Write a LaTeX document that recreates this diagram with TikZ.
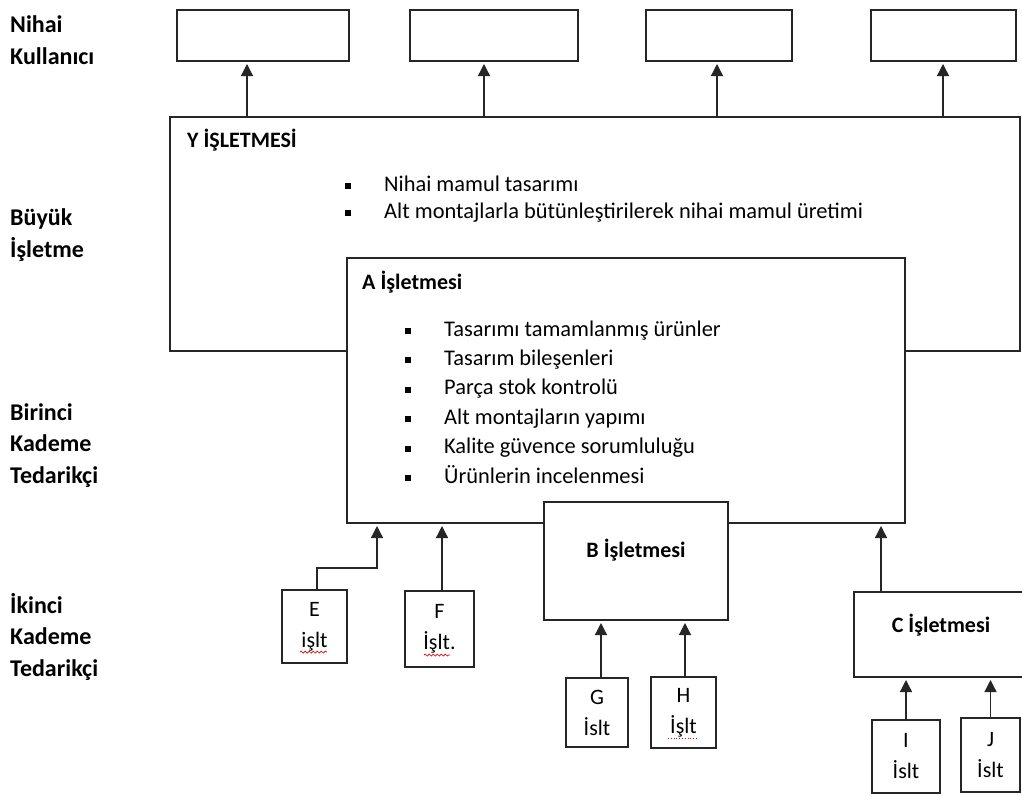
\documentclass[tikz,border=0pt]{standalone}
\usepackage{fontspec}
\setmainfont{Carlito}
\usetikzlibrary{arrows.meta,decorations.pathmorphing}

\newcommand{\blt}{\makebox[39pt][l]{\rule[2pt]{6pt}{6pt}}}

\begin{document}
\begin{tikzpicture}[x=1pt,y=-1pt,
  box/.style={draw=black!85, line width=1.3pt, fill=white, rectangle, inner sep=0pt, outer sep=0pt, anchor=north west},
  arr/.style={draw=black!85, line width=1.3pt, -{Triangle[length=12pt,width=12pt]}, shorten >=3pt},
  lvl/.style={font=\bfseries\fontsize{24}{31.5}\selectfont, align=left, anchor=base west, inner sep=0pt},
  head/.style={font=\bfseries\fontsize{22}{27}\selectfont, inner sep=0pt},
  body/.style={font=\fontsize{22.4}{29.4}\selectfont, align=left, anchor=base west, inner sep=0pt},
  small/.style={box, font=\fontsize{22}{31}\selectfont, align=center},
  spell/.style={draw=red!85!black, line width=0.7pt, decorate, decoration={snake, amplitude=1pt, segment length=4pt}}
]
\useasboundingbox[fill=white] (0,0) rectangle (1022,795);

% level labels (anchored at the baseline of their last line)
\node[lvl] (l1) at (10,64) {Nihai\\Kullanıcı};
\node[lvl] (l2) at (10,257) {Büyük\\İşletme};
\node[lvl] (l3) at (10,483) {Birinci\\Kademe\\Tedarikçi};
\node[lvl] (l4) at (10,676) {İkinci\\Kademe\\Tedarikçi};

% end users
\node[box, minimum width=172, minimum height=51] (u1) at (177,10) {};
\node[box, minimum width=168, minimum height=51] (u2) at (410,10) {};
\node[box, minimum width=146, minimum height=51] (u3) at (646,10) {};
\node[box, minimum width=145, minimum height=51] (u4) at (871,10) {};

% main company
\node[box, minimum width=850, minimum height=234] (Y) at (170,117) {};
\node[head, anchor=base west] (yh) at (187,147) {Y İŞLETMESİ};
\node[body, font=\fontsize{22.4}{27}\selectfont] (yl) at (345,218)
  {\blt Nihai mamul tasarımı\\\blt Alt montajlarla bütünleştirilerek nihai mamul üretimi};

% first tier
\node[box, minimum width=558, minimum height=265] (A) at (347,258) {};
\node[head, anchor=base west] (ah) at (362,289) {A İşletmesi};
\node[body] (al) at (405,483)
  {\blt Tasarımı tamamlanmış ürünler\\\blt Tasarım bileşenleri\\\blt Parça stok kontrolü\\
   \blt Alt montajların yapımı\\\blt Kalite güvence sorumluluğu\\\blt Ürünlerin incelenmesi};

\node[box, minimum width=184, minimum height=118] (B) at (544,502) {};
\node[head, anchor=base] (bh) at (636,557) {B İşletmesi};
\node[box, minimum width=176, minimum height=85] (C) at (854,592) {};
\node[head, anchor=base] (ch) at (941,632) {C İşletmesi};

% second tier
\node[small, minimum width=65, minimum height=73] (E) at (282,590) {E\\işlt};
\node[small, minimum width=69, minimum height=76] (F) at (405,591) {F\\İşlt.};
\node[small, minimum width=62, minimum height=69] (G) at (566,678) {G\\İslt};
\node[small, minimum width=65, minimum height=71] (H) at (651,677) {H\\İşlt};
\node[small, minimum width=68, minimum height=73] (I) at (872,720) {I\\İslt};
\node[small, minimum width=59, minimum height=74] (J) at (961,718) {J\\İslt};

% spelling marks
\draw[spell] ([shift={(-14.5,25.5)}]E.center) -- ([shift={(12.5,25.5)}]E.center);
\draw[spell] ([shift={(-15.5,26)}]F.center) -- ([shift={(10.5,26)}]F.center);
\draw[red!85!black, line width=0.8pt, dotted] ([shift={(-15.5,25.5)}]H.center) -- ([shift={(13.5,25.5)}]H.center);

% connectors
\draw[arr] ([xshift=-16]u1.south |- Y.north) -- ([xshift=-16]u1.south);
\draw[arr] ([xshift=-10]u2.south |- Y.north) -- ([xshift=-10]u2.south);
\draw[arr] ([xshift=-2]u3.south |- Y.north) -- ([xshift=-2]u3.south);
\draw[arr] ([xshift=-0.5]u4.south |- Y.north) -- ([xshift=-0.5]u4.south);

\draw[arr] ([xshift=2.5]E.north) -- ++(0,-22) -| ([xshift=-249]A.south);
\draw[arr] ([xshift=2.5]F.north) -- ([xshift=2.5]F.north |- A.south);
\draw[arr] ([xshift=-61]C.north) -- ([xshift=-61]C.north |- A.south);
\draw[arr] ([xshift=4]G.north) -- ([xshift=4]G.north |- B.south);
\draw[arr] ([xshift=1.5]H.north) -- ([xshift=1.5]H.north |- B.south);
\draw[arr] (I.north) -- (I.north |- C.south);
\draw[arr] (J.north) -- (J.north |- C.south);
\end{tikzpicture}
\end{document}
